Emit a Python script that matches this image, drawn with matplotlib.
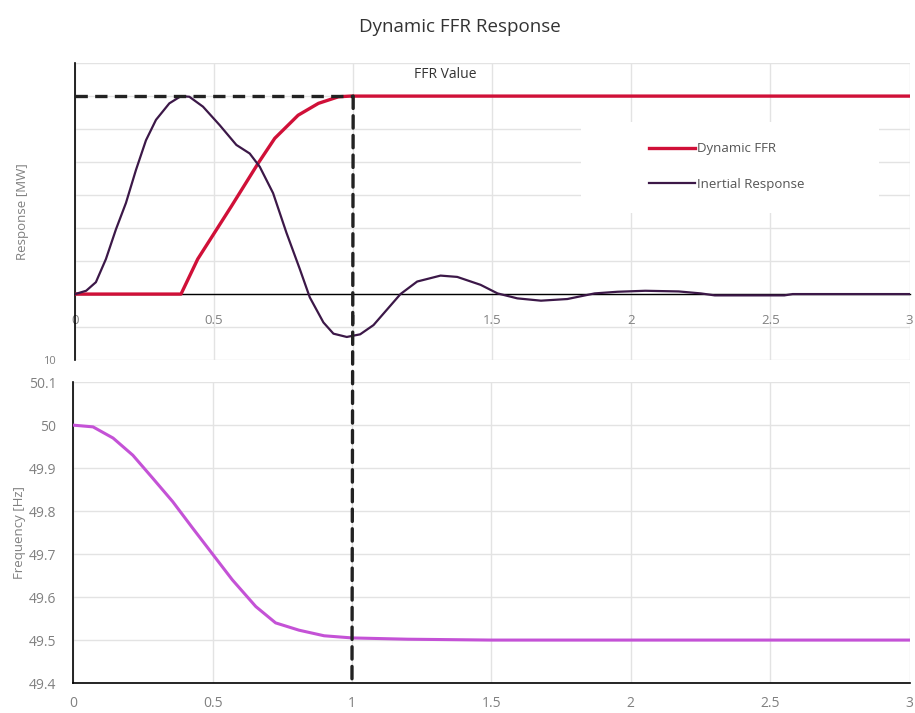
import matplotlib.pyplot as plt
from matplotlib.patches import ConnectionPatch, Rectangle

# Datos
t_inercial = [0, 0.04, 0.075, 0.111, 0.147, 0.183, 0.219, 0.255, 0.291, 0.339, 0.381, 0.411,
              0.46, 0.52, 0.58, 0.628, 0.664, 0.712, 0.76, 0.808, 0.844, 0.893, 0.929, 0.977,
              1.025, 1.073, 1.17, 1.23, 1.314, 1.374, 1.458, 1.519, 1.59, 1.675, 1.77, 1.868,
              1.95, 2.05, 2.17, 2.25, 2.3, 2.55, 2.58, 3.0]
r_inercial = [0, 0.5, 1.8, 5.3, 9.8, 13.8, 18.8, 23.3, 26.4, 28.9, 30.0, 29.9,
              28.4, 25.6, 22.6, 21.3, 19.3, 15.3, 9.3, 3.8, -0.5, -4.3, -6.0, -6.5,
              -6.1, -4.7, 0.0, 1.9, 2.8, 2.6, 1.4, 0.1, -0.65, -1.0, -0.75, 0.1,
              0.35, 0.5, 0.4, 0.1, -0.2, -0.2, 0.0, 0.0]

t_ffr = [0, 0.381, 0.441, 0.562, 0.658, 0.718, 0.802, 0.875, 0.947, 0.99, 3.0]
r_ffr = [0, 0, 5.3, 13.3, 19.8, 23.6, 27.1, 28.9, 29.9, 30.0, 30.0]

t_frec = [0, 0.071, 0.143, 0.214, 0.286, 0.357, 0.429, 0.5, 0.571, 0.655, 0.726, 0.81,
          0.9, 1.0, 1.2, 1.5, 3.0]
frec = [50.0, 49.996, 49.97, 49.93, 49.876, 49.822, 49.76, 49.70, 49.64, 49.578, 49.54,
        49.523, 49.51, 49.505, 49.502, 49.5, 49.5]

valor_ffr = 30
t_ffr_total = 1.0

xticks = [0, 0.5, 1, 1.5, 2, 2.5, 3]
xlabels = ['0', '0.5', '1', '1.5', '2', '2.5', '3']

plt.rcParams['font.family'] = ['Open Sans', 'DejaVu Sans']
gris = '#808080'
rejilla = '#e3e3e3'

fig = plt.figure(figsize=(9.15, 7.13), dpi=100)
ax1 = fig.add_axes([0.082, 0.495, 0.912, 0.4165])
ax2 = fig.add_axes([0.080, 0.042, 0.914, 0.422])

fig.text(0.503, 0.962, 'Dynamic FFR Response', ha='center', va='center', fontsize=13.5, color='#333333')

# Panel superior
ax1.set_xlim(0, 3)
ax1.set_ylim(-10, 35)
ax1.set_xticks(xticks)
ax1.set_xticklabels(xlabels)
ax1.set_yticks(range(-10, 40, 5))
ax1.set_yticklabels(['10'] + [''] * 9)
ax1.grid(True, color=rejilla, lw=1)
ax1.set_axisbelow(True)
for s in ['top', 'right']:
    ax1.spines[s].set_visible(False)
ax1.spines['bottom'].set_position(('data', 0))
ax1.spines['bottom'].set_linewidth(1)
ax1.spines['left'].set_linewidth(1.2)
ax1.tick_params(length=0, colors=gris, labelsize=9.5)
ax1.tick_params(axis='x', pad=14)
ax1.tick_params(axis='y', pad=14, labelsize=8)
ax1.set_ylabel('Response [MW]', color=gris, fontsize=9.5, labelpad=10)

ax1.add_patch(Rectangle((1.82, 12.3), 1.07, 13.8, facecolor='white', edgecolor='none', zorder=1.5))

ax1.plot(t_ffr, r_ffr, color='#d01038', lw=2.4, label='Dynamic FFR', zorder=3)
ax1.plot(t_inercial, r_inercial, color='#3c1848', lw=1.6, label='Inertial Response', zorder=4)
ax1.plot([0, t_ffr_total], [valor_ffr, valor_ffr], color='#222222', lw=2.4, dashes=(3.7, 2.2), zorder=5)
ax1.text(1.33, 33.2, 'FFR Value', ha='center', va='center', fontsize=10, color='#333333')

ax1.legend(loc='center', bbox_to_anchor=(0.781, 0.652), frameon=False, fontsize=9.5,
           handlelength=3.5, labelspacing=1.7, handletextpad=0.2, labelcolor='#555555')

# Panel inferior
ax2.set_xlim(0, 3)
ax2.set_ylim(49.4, 50.1)
ax2.set_xticks(xticks)
ax2.set_xticklabels(xlabels)
ax2.set_yticks([49.4, 49.5, 49.6, 49.7, 49.8, 49.9, 50.0, 50.1])
ax2.set_yticklabels(['49.4', '49.5', '49.6', '49.7', '49.8', '49.9', '50', '50.1'])
ax2.grid(True, color=rejilla, lw=1)
ax2.set_axisbelow(True)
for s in ['top', 'right']:
    ax2.spines[s].set_visible(False)
ax2.spines['left'].set_linewidth(1.2)
ax2.spines['bottom'].set_linewidth(1.2)
ax2.tick_params(length=0, colors=gris, labelsize=10, pad=9)
ax2.tick_params(axis='y', pad=12)
ax2.set_ylabel('Frequency [Hz]', color=gris, fontsize=9.5, labelpad=2)
ax2.plot(t_frec, frec, color='#c452d6', lw=2.2, zorder=3)

# Linea vertical discontinua que cruza ambos paneles
con = ConnectionPatch(xyA=(t_ffr_total, valor_ffr), coordsA=ax1.transData,
                      xyB=(t_ffr_total, 49.4), coordsB=ax2.transData,
                      color='#222222', lw=2.4, linestyle=(0, (3.7, 2.2)), zorder=6)
fig.add_artist(con)

fig.savefig('out.png', dpi=100)
